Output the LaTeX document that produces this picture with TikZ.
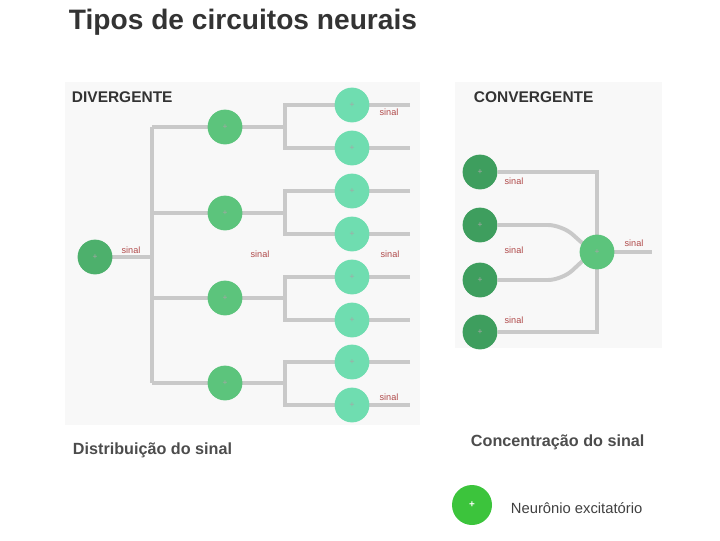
\documentclass[tikz,border=0pt]{standalone}
\usepackage{fontspec}
\setmainfont{Liberation Sans}
\definecolor{wiregray}{HTML}{C9C9C9}
\definecolor{darkneuron}{HTML}{3E9E5E}
\definecolor{inneuron}{HTML}{4DB06C}
\definecolor{midneuron}{HTML}{5CC47C}
\definecolor{outneuron}{HTML}{6FDDB0}
\definecolor{legendgreen}{HTML}{3CC43C}
\definecolor{labelred}{HTML}{B04A4A}
\definecolor{panelgray}{HTML}{F8F8F8}
\begin{document}
\begin{tikzpicture}[x=0.025cm,y=-0.025cm,
    main node/.style={circle,draw=none,inner sep=0pt,minimum size=0.87cm,font=\fontsize{6}{6}\selectfont,text=black!35},
    in node/.style={main node,fill=inneuron},
    mid node/.style={main node,fill=midneuron},
    out node/.style={main node,fill=outneuron},
    conv node/.style={main node,fill=darkneuron},
    wire/.style={draw=wiregray,line width=2.8pt},
    red label/.style={text=labelred,font=\fontsize{6.5}{7}\selectfont},
    head label/.style={font=\bfseries\fontsize{11}{12}\selectfont,text=black!80,anchor=west},
    foot label/.style={font=\bfseries\fontsize{11.5}{13}\selectfont,text=black!70,anchor=west}]
    \useasboundingbox (0,0) rectangle (720,540);
    \fill[panelgray] (65,82) rectangle (420,425);
    \fill[panelgray] (455,82) rectangle (662,348);

    \node[anchor=west,font=\bfseries\fontsize{20}{22}\selectfont,text=black!80] at (64,22) (title) {Tipos de circuitos neurais};
    \node[head label] at (67,97) (div) {DIVERGENTE};
    \node[head label] at (469,97) (conv) {CONVERGENTE};

    % divergente
    \coordinate (t0) at (152,257);
    \foreach \y [count=\i] in {127,213,298,383} {
        \coordinate (t\i) at (152,\y);
        \coordinate (b\i) at (285,\y);
    }
    \foreach \y [count=\i] in {105,148,191,234,277,320,362,405} {
        \coordinate (e\i) at (410,\y);
    }
    \draw[wire] (t0) -- (95,257);
    \draw[wire] (t1) -- (t4);
    \foreach \i in {1,...,4} {
        \draw[wire] (t\i) -- (b\i);
    }
    \foreach \i/\j/\k in {1/1/2,2/3/4,3/5/6,4/7/8} {
        \draw[wire] (e\j) -| (b\i) |- (e\k);
    }

    \node[in node] at (95,257) (in) {+};
    \foreach \y [count=\i] in {127,213,298,383}
        \node[mid node] at (225,\y) (m\i) {+};
    \foreach \y [count=\i] in {105,148,191,234,277,320,362,405}
        \node[out node] at (352,\y) (o\i) {+};

    \node[red label] at (131,250) (l1) {sinal};
    \node[red label] at (260,254) (l2) {sinal};
    \node[red label] at (390,254) (l3) {sinal};
    \node[red label] at (389,112) (l4) {sinal};
    \node[red label] at (389,397) (l5) {sinal};

    % convergente
    \coordinate (k1) at (597,172);
    \coordinate (k2) at (562,225);
    \coordinate (k3) at (562,280);
    \coordinate (k4) at (597,332);
    \coordinate (kout) at (652,252);
    \node[conv node] at (480,172) (c1) {+};
    \node[conv node] at (480,225) (c2) {+};
    \node[conv node] at (480,280) (c3) {+};
    \node[conv node] at (480,332) (c4) {+};
    \draw[wire] (c1) -- (k1) -- (597,252);
    \draw[wire] (c4) -- (k4) -- (597,252);
    \draw[wire,rounded corners=10pt] (c2) -- (k2) -- (590,250);
    \draw[wire,rounded corners=10pt] (c3) -- (k3) -- (590,254);
    \draw[wire] (597,252) -- (kout);
    \node[mid node] at (597,252) (cout) {+};

    \node[red label] at (514,181) (l6) {sinal};
    \node[red label] at (514,250) (l7) {sinal};
    \node[red label] at (514,320) (l8) {sinal};
    \node[red label] at (634,243) (l9) {sinal};

    \node[foot label] at (68,450) (dist) {Distribuição do sinal};
    \node[foot label] at (466,442) (conc) {Concentração do sinal};

    \node[circle,fill=legendgreen,minimum size=1cm,inner sep=0pt,text=white,font=\bfseries\fontsize{7}{7}\selectfont] at (472,505) (leg) {+};
    \node[anchor=west,font=\fontsize{10.5}{12}\selectfont,text=black!75] at (506,508) (legtext) {Neurônio excitatório};
\end{tikzpicture}
\end{document}
